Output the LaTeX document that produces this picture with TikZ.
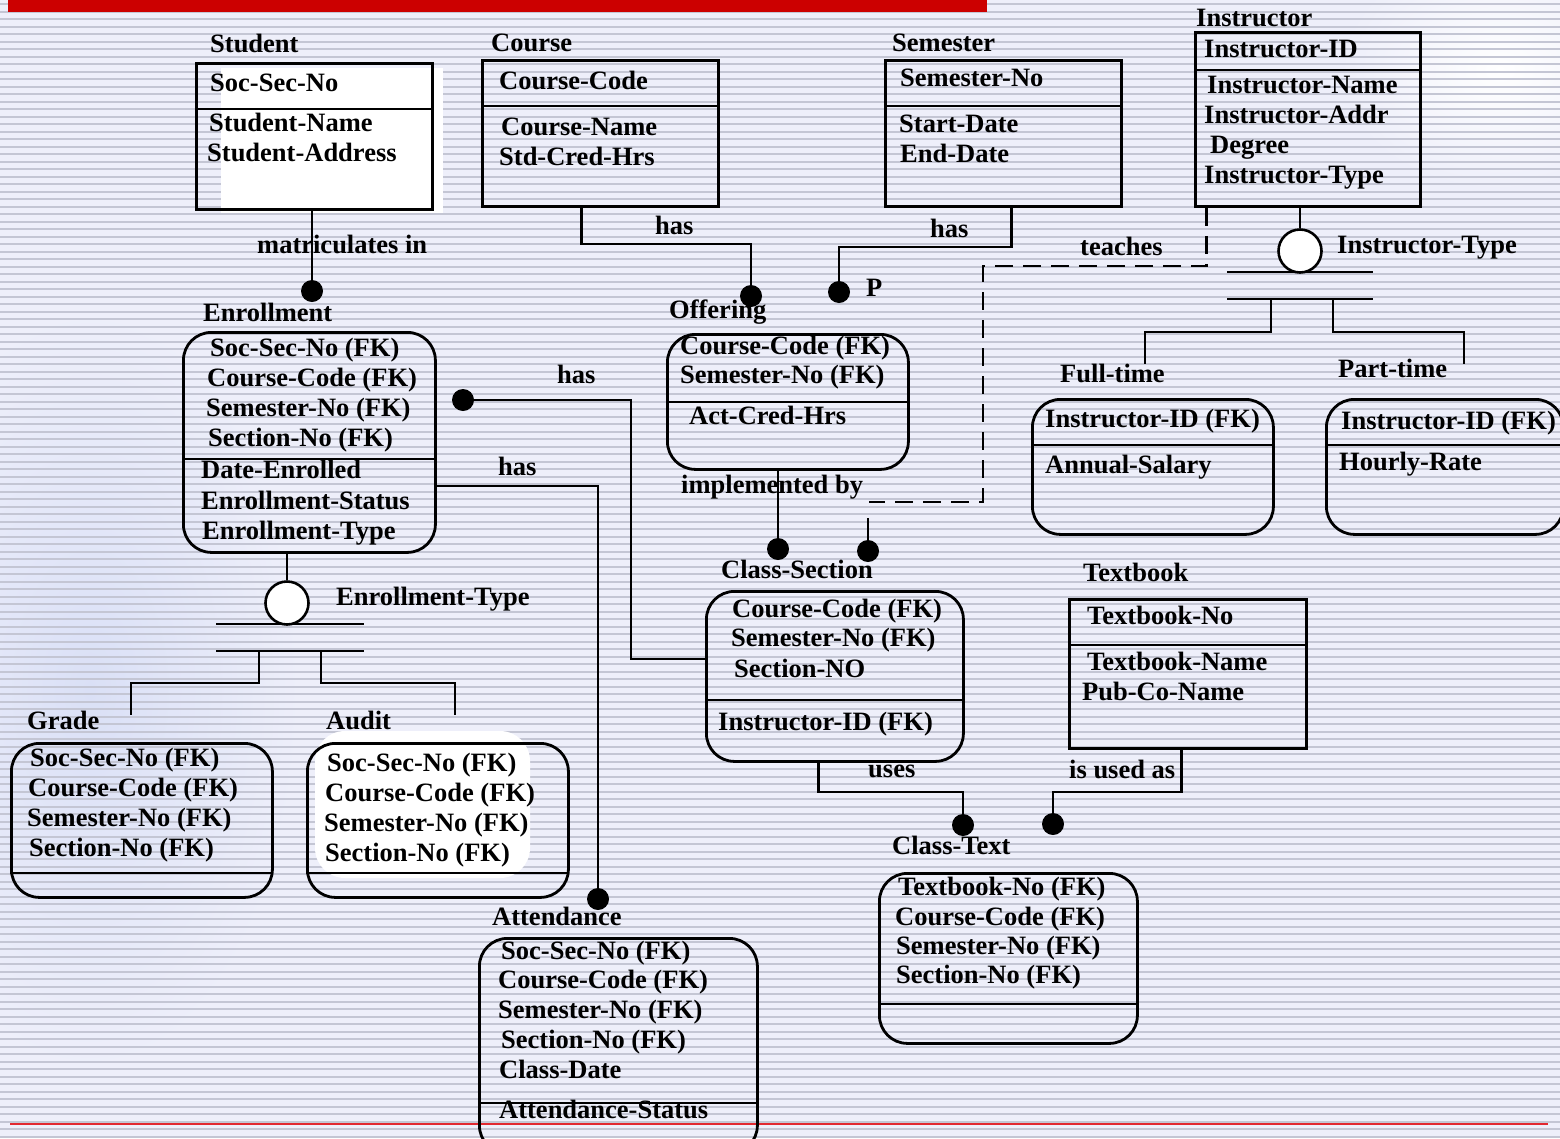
\documentclass[tikz,border=0pt]{standalone}
\usepackage{fontspec}
\setmainfont{Liberation Serif}
\definecolor{paper}{RGB}{238,239,250}
\definecolor{stripe}{RGB}{196,198,212}
\definecolor{haze}{RGB}{218,224,246}
\definecolor{barred}{RGB}{204,0,0}
\definecolor{thinred}{RGB}{226,40,48}
\begin{document}
\begin{tikzpicture}[x=1pt,y=-1pt,
  txt/.style={anchor=base west, inner sep=0pt, font=\fontsize{26.5}{30}\selectfont\bfseries},
  ebox/.style={draw, line width=2.8pt, rectangle, anchor=north west, inner sep=0pt},
  rbox/.style={ebox, rounded corners=28pt},
  divl/.style={line width=2.8pt},
  link/.style={line width=2.6pt},
  ldash/.style={link, dash pattern=on 18pt off 10pt},
  jdot/.style={circle, fill=black, inner sep=0pt, minimum size=22pt},
  gdisc/.style={circle, draw, fill=white, line width=2.6pt, inner sep=0pt, minimum size=43pt}]

\useasboundingbox (0,0) rectangle (1560,1138);
\clip (0,0) rectangle (1560,1138);

% striped backdrop
\fill[paper] (0,0) rectangle (1560,1138);
\shade[inner color=haze, outer color=paper] (90,690) ellipse (210 and 380);
\shade[inner color=white, outer color=paper] (1500,70) ellipse (160 and 120);
\foreach \k in {0,...,151}
  \draw[stripe, line width=2pt] (0,4+7.5*\k) -- (1560,4+7.5*\k);
\fill[barred] (8,0) rectangle (987,12);
\draw[thinred, line width=1.1pt] (10,1124) -- (1548,1124);

% white patches behind some entities
\fill[white] (221,68) rectangle (443,213);
\fill[white, rounded corners=30pt] (315,731) rectangle (530,878);

% ---------- entity boxes ----------
\node[ebox, minimum width=236pt, minimum height=146pt] (student) at (195,62) {};
\draw[divl] (195,109) -- (431,109);
\node[ebox, minimum width=236pt, minimum height=146pt] (course) at (481,59) {};
\draw[divl] (481,106) -- (717,106);
\node[ebox, minimum width=236pt, minimum height=146pt] (semester) at (884,59) {};
\draw[divl] (884,106) -- (1120,106);
\node[ebox, minimum width=225pt, minimum height=174pt] (instructor) at (1194,31) {};
\draw[divl] (1194,70) -- (1419,70);
\node[rbox, minimum width=252pt, minimum height=220pt] (enroll) at (182,331) {};
\draw[divl] (182,459) -- (434,459);
\node[rbox, minimum width=241pt, minimum height=135pt] (offering) at (666,333) {};
\draw[divl] (666,402) -- (907,402);
\node[rbox, minimum width=257pt, minimum height=170pt] (classsec) at (705,590) {};
\draw[divl] (705,700) -- (962,700);
\node[ebox, minimum width=237pt, minimum height=149pt] (textbook) at (1068,598) {};
\draw[divl] (1068,645) -- (1305,645);
\node[rbox, minimum width=258pt, minimum height=170pt] (classtext) at (878,872) {};
\draw[divl] (878,1004) -- (1136,1004);
\node[rbox, minimum width=261pt, minimum height=154pt] (grade) at (10,742) {};
\draw[divl] (10,873) -- (271,873);
\node[rbox, minimum width=261pt, minimum height=154pt] (audit) at (306,742) {};
\draw[divl] (306,873) -- (567,873);
\node[rbox, minimum width=278pt, minimum height=215pt] (attend) at (478,937) {};
\draw[divl] (478,1103) -- (756,1103);
\node[rbox, minimum width=241pt, minimum height=135pt] (fulltime) at (1031,398) {};
\draw[divl] (1031,445) -- (1272,445);
\node[rbox, minimum width=237pt, minimum height=135pt] (parttime) at (1325,398) {};
\draw[divl] (1325,445) -- (1562,445);

% ---------- joints ----------
\node[jdot] (matdot) at (312,291) {};
\node[jdot] (offdot) at (751,296) {};
\node[jdot] (semdot) at (839,292) {};
\node[jdot] (enrdot) at (463,400) {};
\node[jdot] (attdot) at (598,899) {};
\node[jdot] (impdot) at (778,549) {};
\node[jdot] (teachdot) at (868,551) {};
\node[jdot] (usesdot) at (963,825) {};
\node[jdot] (bookdot) at (1053,824) {};
\coordinate (teachend) at (869,502);
\coordinate (teachtop) at (868,518);

% ---------- relationships ----------
\draw[link] (matdot |- student.south) -- (matdot);
\draw[link] ([xshift=-19pt]course.south) -- ++(0,36) -| (offdot);
\draw[link] ([xshift=8pt]semester.south) -- ++(0,39) -| (semdot);
\draw[ldash] ([xshift=-101.5pt]instructor.south) |- (983,266) -- (983,502) -- (teachend);
\draw[link] (teachtop) -- (teachdot);
\draw[link] (enrdot) -- (631,400) -- (631,659) -- (classsec.west |- 0,659);
\draw[link] (enroll.east |- 0,486) -- (598,486) -- (attdot);
\draw[link] (impdot |- offering.south) -- (impdot);
\draw[link] ([xshift=-16.5pt]classsec.south) -- ++(0,29) -| (usesdot);
\draw[link] ([xshift=-6.5pt]textbook.south) -- ++(0,42) -| (bookdot);

% enrollment subtypes
\node[gdisc] (etdisc) at (287,603) {};
\draw[link] (etdisc |- enroll.south) -- (etdisc.north);
\draw[divl] (216,624) -- (364,624);
\draw[divl] (216,651) -- (364,651);
\coordinate (gradeend) at (131,715);
\coordinate (auditend) at (455,715);
\draw[link] (259,651) -- (259,683) -| (gradeend);
\draw[link] (321,651) -- (321,683) -| (auditend);

% instructor subtypes
\node[gdisc] (itdisc) at (1300,251) {};
\draw[link] (itdisc |- instructor.south) -- (itdisc.north);
\draw[divl] (1227,272) -- (1373,272);
\draw[divl] (1227,299) -- (1373,299);
\coordinate (fullend) at (1145,364);
\coordinate (partend) at (1464,364);
\draw[link] (1271,299) -- (1271,332) -| (fullend);
\draw[link] (1333,299) -- (1333,332) -| (partend);

% ---------- entity names ----------
\node[txt] (nStudent) at (210,52) {Student};
\node[txt] (nCourse) at (491,51) {Course};
\node[txt] (nSemester) at (892,51) {Semester};
\node[txt] (nInstructor) at (1196,26) {Instructor};
\node[txt] (nEnroll) at (203,321) {Enrollment};
\node[txt] (nOffering) at (669,318) {Offering};
\node[txt] (nClassSec) at (721,578) {Class-Section};
\node[txt] (nTextbook) at (1083,581) {Textbook};
\node[txt] (nGrade) at (27,729) {Grade};
\node[txt] (nAudit) at (326,729) {Audit};
\node[txt] (nAttend) at (492,925) {Attendance};
\node[txt] (nClassText) at (892,854) {Class-Text};
\node[txt] (nFull) at (1060,382) {Full-time};
\node[txt] (nPart) at (1338,377) {Part-time};

% ---------- relationship names ----------
\node[txt] (rMat) at (257,253) {matriculates in};
\node[txt] (rHas1) at (655,234) {has};
\node[txt] (rHas2) at (930,237) {has};
\node[txt] (rP) at (866,296) {P};
\node[txt] (rTeach) at (1080,255) {teaches};
\node[txt] (rIType) at (1337,253) {Instructor-Type};
\node[txt] (rHas3) at (557,383) {has};
\node[txt] (rHas4) at (498,475) {has};
\node[txt] (rImpl) at (681,493) {implemented by};
\node[txt] (rEType) at (336,605) {Enrollment-Type};
\node[txt] (rUses) at (868,777) {uses};
\node[txt] (rUsedAs) at (1069,778) {is used as};

% ---------- attributes ----------
\node[txt] (s1) at (210,91) {Soc-Sec-No};
\node[txt] (s2) at (209,131) {Student-Name};
\node[txt] (s3) at (207,161) {Student-Address};

\node[txt] (c1) at (499,89) {Course-Code};
\node[txt] (c2) at (501,135) {Course-Name};
\node[txt] (c3) at (499,165) {Std-Cred-Hrs};

\node[txt] (m1) at (900,86) {Semester-No};
\node[txt] (m2) at (899,132) {Start-Date};
\node[txt] (m3) at (900,162) {End-Date};

\node[txt] (i1) at (1204,57) {Instructor-ID};
\node[txt] (i2) at (1207,93) {Instructor-Name};
\node[txt] (i3) at (1204,123) {Instructor-Addr};
\node[txt] (i4) at (1210,153) {Degree};
\node[txt] (i5) at (1204,183) {Instructor-Type};

\node[txt] (e1) at (210,356) {Soc-Sec-No (FK)};
\node[txt] (e2) at (207,386) {Course-Code (FK)};
\node[txt] (e3) at (206,416) {Semester-No (FK)};
\node[txt] (e4) at (208,446) {Section-No (FK)};
\node[txt] (e5) at (201,478) {Date-Enrolled};
\node[txt] (e6) at (201,509) {Enrollment-Status};
\node[txt] (e7) at (202,539) {Enrollment-Type};

\node[txt] (o1) at (680,354) {Course-Code (FK)};
\node[txt] (o2) at (680,383) {Semester-No (FK)};
\node[txt] (o3) at (689,424) {Act-Cred-Hrs};

\node[txt] (k1) at (732,617) {Course-Code (FK)};
\node[txt] (k2) at (731,646) {Semester-No (FK)};
\node[txt] (k3) at (734,677) {Section-NO};
\node[txt] (k4) at (718,730) {Instructor-ID (FK)};

\node[txt] (t1) at (1087,624) {Textbook-No};
\node[txt] (t2) at (1087,670) {Textbook-Name};
\node[txt] (t3) at (1082,700) {Pub-Co-Name};

\node[txt] (x1) at (898,895) {Textbook-No (FK)};
\node[txt] (x2) at (895,925) {Course-Code (FK)};
\node[txt] (x3) at (896,954) {Semester-No (FK)};
\node[txt] (x4) at (896,983) {Section-No (FK)};

\node[txt] (g1) at (30,766) {Soc-Sec-No (FK)};
\node[txt] (g2) at (28,796) {Course-Code (FK)};
\node[txt] (g3) at (27,826) {Semester-No (FK)};
\node[txt] (g4) at (29,856) {Section-No (FK)};

\node[txt] (a1) at (327,771) {Soc-Sec-No (FK)};
\node[txt] (a2) at (325,801) {Course-Code (FK)};
\node[txt] (a3) at (324,831) {Semester-No (FK)};
\node[txt] (a4) at (325,861) {Section-No (FK)};

\node[txt] (d1) at (501,959) {Soc-Sec-No (FK)};
\node[txt] (d2) at (498,988) {Course-Code (FK)};
\node[txt] (d3) at (498,1018) {Semester-No (FK)};
\node[txt] (d4) at (501,1048) {Section-No (FK)};
\node[txt] (d5) at (499,1078) {Class-Date};
\node[txt] (d6) at (499,1118) {Attendance-Status};

\node[txt] (f1) at (1045,427) {Instructor-ID (FK)};
\node[txt] (f2) at (1045,473) {Annual-Salary};

\node[txt] (p1) at (1341,429) {Instructor-ID (FK)};
\node[txt] (p2) at (1339,470) {Hourly-Rate};
\end{tikzpicture}
\end{document}
